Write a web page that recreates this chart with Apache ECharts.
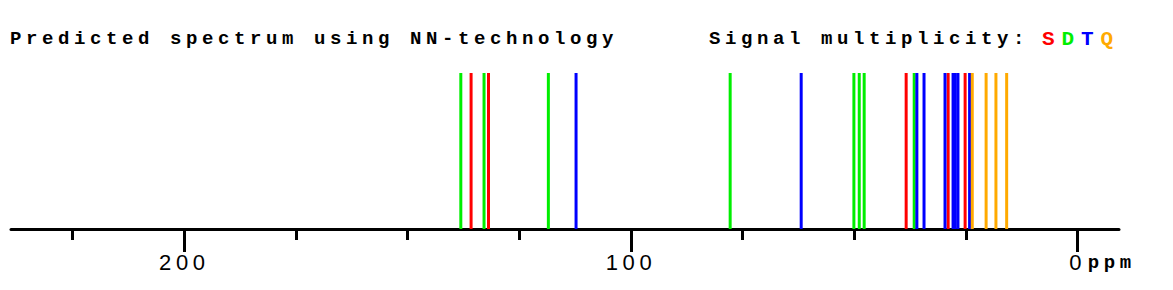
<!DOCTYPE html>
<html>
<head>
<meta charset="utf-8">
<script src="https://cdn.jsdelivr.net/npm/echarts@6/dist/echarts.min.js"></script>
<style>
html,body{margin:0;padding:0;background:#fff;}
#c{width:1173px;height:290px;letter-spacing:4.6px;}
</style>
</head>
<body>
<div id="c"></div>
<script>
// Chemical shifts (ppm) by signal multiplicity
const singlets = [135.8, 131.9, 38.4, 29.0, 25.2];
const doublets = [138.1, 132.9, 118.5, 77.8, 50.1, 48.9, 47.8, 36.6];
const triplets = [112.3, 61.9, 36.0, 34.4, 29.7, 27.9, 27.4, 26.8, 24.2];
const quartets = [23.6, 20.5, 18.3, 15.9];
const minorTicks = [25, 50, 75, 125, 150, 175, 225];
const majorTicks = [0, 100, 200];
const titleText = 'Predicted spectrum using NN-technology';
const legendText = 'Signal multiplicity:';
const legendLetters = ['S', 'D', 'T', 'Q'];
const colors = ['#ff0000', '#00ee00', '#0000ff', '#ffaa00'];

const chart = echarts.init(document.getElementById('c'), null, {renderer: 'svg'});
const mono = '"Liberation Mono", "Courier New", monospace';
const sans = '"Liberation Sans", Arial, sans-serif';

function mk(name, arr, color) {
  return {
    name: name, type: 'bar', xAxisIndex: 0, yAxisIndex: 0,
    barWidth: 3, barGap: '-100%',
    itemStyle: {color: color},
    data: arr.map(v => [v, 1]),
    silent: true, animation: false
  };
}

const option = {
  animation: false,
  grid: {left: 11, right: 54, top: 73, bottom: 61},
  xAxis: [
    {
      type: 'value', inverse: true, min: -9.25, max: 238.8,
      splitLine: {show: false},
      axisLine: {show: true, lineStyle: {color: '#000', width: 3}},
      axisTick: {show: true, customValues: minorTicks, length: 11, lineStyle: {color: '#000', width: 3}},
      axisLabel: {show: false}
    },
    {
      type: 'value', inverse: true, min: -9.25, max: 238.8, position: 'bottom',
      splitLine: {show: false},
      axisLine: {show: false},
      axisTick: {show: true, customValues: majorTicks, length: 23, lineStyle: {color: '#000', width: 3}},
      axisLabel: {show: true, customValues: majorTicks, margin: 22, color: '#000',
                  fontFamily: sans, fontSize: 22}
    }
  ],
  yAxis: {type: 'value', min: 0, max: 1, show: false},
  series: [
    mk('S', singlets, colors[0]),
    mk('D', doublets, colors[1]),
    mk('T', triplets, colors[2]),
    mk('Q', quartets, colors[3])
  ]
};
chart.setOption(option);

const zeroX = chart.convertToPixel({xAxisIndex: 0}, 0);
const lx = [1042, 1061.5, 1081, 1100.5];
const graphics = [
  {type: 'text', x: 10, y: 39, style: {text: titleText, fill: '#000', font: 'bold 19px ' + mono, verticalAlign: 'middle', textVerticalAlign: 'middle'}},
  {type: 'text', x: 709, y: 39, style: {text: legendText, fill: '#000', font: 'bold 19px ' + mono, verticalAlign: 'middle', textVerticalAlign: 'middle'}},
  {type: 'text', x: zeroX + 10, y: 263, style: {text: 'ppm', fill: '#000', font: 'bold 19px ' + mono, verticalAlign: 'middle', textVerticalAlign: 'middle'}}
];
legendLetters.forEach((l, i) => {
  graphics.push({type: 'text', x: lx[i], y: 39, style: {text: l, fill: colors[i], font: 'bold 21px ' + mono, verticalAlign: 'middle', textVerticalAlign: 'middle'}});
});
chart.setOption({graphic: graphics});
</script>
</body>
</html>
